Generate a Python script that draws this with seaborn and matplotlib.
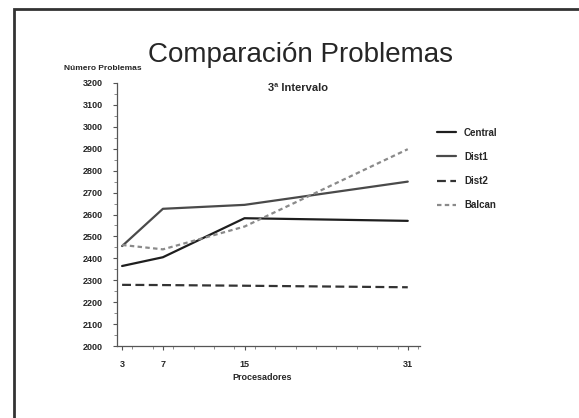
import matplotlib
matplotlib.use("Agg")
import matplotlib.pyplot as plt
import seaborn as sns
import pandas as pd
from matplotlib.lines import Line2D
from matplotlib.patches import Rectangle
from matplotlib.ticker import MultipleLocator, FixedLocator

procesadores = [3, 7, 15, 31]
central = [2365, 2405, 2583, 2571]
dist1 = [2456, 2626, 2644, 2750]
dist2 = [2279, 2278, 2275, 2268]
balcan = [2461, 2441, 2545, 2898]
series_names = ["Central", "Dist1", "Dist2", "Balcan"]
y_ticks = list(range(2000, 3201, 100))

sns.set_style("ticks")
plt.rcParams['font.family'] = ['Liberation Sans', 'DejaVu Sans']

rows = []
for name, vals in zip(series_names, [central, dist1, dist2, balcan]):
    for p, v in zip(procesadores, vals):
        rows.append({"Procesadores": p, "Problemas": v, "Serie": name})
df = pd.DataFrame(rows)

W, H = 579, 418
fig = plt.figure(figsize=(W / 100, H / 100), dpi=100)
fig.patch.set_facecolor("white")

# outer frame
fig.patches.append(Rectangle((14 / W, -0.05), (W - 14 + 5) / W, 1 - 9 / H + 0.05,
                             transform=fig.transFigure, fill=False,
                             edgecolor="#333333", linewidth=2.0))

ax = fig.add_axes([117 / W, (H - 346) / H, (420 - 117) / W, (346 - 83) / H])
palette = {"Central": "#1e1e1e", "Dist1": "#4a4a4a", "Dist2": "#333333", "Balcan": "#8a8a8a"}
dashes = {"Central": "", "Dist1": "", "Dist2": (4, 2), "Balcan": (2, 1.5)}
sns.lineplot(data=df, x="Procesadores", y="Problemas", hue="Serie", style="Serie",
             palette=palette, dashes=dashes, linewidth=1.6, ax=ax, legend=False)

ax.set_xlim(2.5, 32.2)
ax.set_ylim(2000, 3200)
ax.xaxis.set_major_locator(FixedLocator(procesadores))
ax.xaxis.set_minor_locator(MultipleLocator(2))
ax.yaxis.set_major_locator(FixedLocator(y_ticks))
ax.yaxis.set_minor_locator(MultipleLocator(50))
ax.set_yticklabels([str(v) for v in y_ticks])
ax.set_xticklabels([str(v) for v in procesadores])
for lab in ax.get_xticklabels() + ax.get_yticklabels():
    lab.set_fontweight("bold")
    lab.set_fontsize(6.5)
ax.tick_params(axis="both", which="major", length=3, width=0.8, color="#555555", pad=7)
ax.tick_params(axis="both", which="minor", length=2, width=0.6, color="#777777")
sns.despine(ax=ax)
for s in ["left", "bottom"]:
    ax.spines[s].set_color("#555555")
    ax.spines[s].set_linewidth(0.9)
ax.set_xlabel("")
ax.set_ylabel("")

fig.text(301 / W, 1 - 55 / H, "Comparación Problemas", ha="center", va="center",
         fontsize=20)
fig.text(298 / W, 1 - 88 / H, "3ª Intervalo", ha="center", va="center",
         fontsize=8, fontweight="bold")
fig.text(64 / W, 1 - 69 / H, "Número Problemas", ha="left", va="center",
         fontsize=6, fontweight="bold")
fig.text(262 / W, 1 - 378 / H, "Procesadores", ha="center", va="center",
         fontsize=6.5, fontweight="bold")

handles = [Line2D([], [], color=palette[n], linewidth=1.6,
                  dashes=dashes[n] if dashes[n] else (None, None)) for n in series_names]
leg = fig.legend(handles, series_names, loc="upper left",
                 bbox_to_anchor=(428 / W, 1 - 119 / H), frameon=False,
                 prop={"size": 7, "weight": "bold"}, handlelength=2.0,
                 labelspacing=1.45, handletextpad=0.8)

fig.savefig("out.png", dpi=100, facecolor="white")
